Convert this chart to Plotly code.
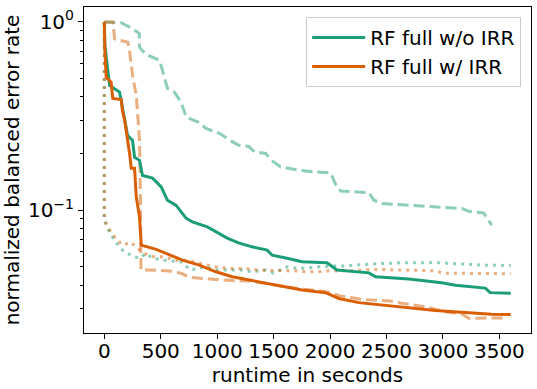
import plotly.graph_objects as go

# ---- data (runtime in seconds, normalized balanced error rate) ----
# RF full w/o IRR: median (solid), upper quantile (dashed), lower quantile (dotted)
wo_med_x = [0, 0, 5, 17, 47, 135, 180, 206, 250, 268, 312, 338, 427, 504, 559, 636, 724, 780, 913,
            989, 1089, 1195, 1310, 1443, 1487, 1608, 1752, 1973, 2061, 2344, 2403, 2697, 2989,
            3110, 3375, 3419, 3600]
wo_med_y = [1.0, 0.85, 0.75, 0.649, 0.46, 0.424, 0.30, 0.25, 0.235, 0.191, 0.184, 0.153, 0.148,
            0.133, 0.113, 0.106, 0.0907, 0.0867, 0.0815, 0.0767, 0.0711, 0.0669, 0.0639, 0.0614,
            0.0577, 0.0557, 0.0532, 0.0526, 0.0481, 0.0465, 0.0443, 0.0431, 0.0412, 0.040,
            0.0386, 0.0365, 0.0362]

wo_hi_x = [0, 150, 250, 310, 312, 360, 490, 530, 560, 620, 680, 725, 830, 900, 1020, 1130, 1190,
           1280, 1330, 1430, 1480, 1560, 1700, 1840, 2005, 2049, 2094, 2344, 2388, 2461, 2815,
           3168, 3227, 3360, 3433]
wo_hi_y = [1.0, 0.99, 0.92, 0.867, 0.733, 0.677, 0.624, 0.508, 0.443, 0.424, 0.375, 0.312, 0.294,
           0.272, 0.256, 0.232, 0.221, 0.218, 0.204, 0.20, 0.184, 0.170, 0.164, 0.160, 0.158,
           0.137, 0.1265, 0.124, 0.113, 0.1085, 0.105, 0.102, 0.0988, 0.0968, 0.0832]

wo_lo_x = [0, 0, 45, 100, 160, 235, 310, 370, 410, 500, 575, 680, 765, 880, 1000, 1210, 1310,
           1430, 1500, 1620, 1725, 1900, 2000, 2100, 2340, 2630, 2930, 3200, 3400, 3600]
wo_lo_y = [1.0, 0.0885, 0.0767, 0.0677, 0.0614, 0.0577, 0.0555, 0.059, 0.0566, 0.0543, 0.054,
           0.0532, 0.0481, 0.050, 0.0481, 0.0481, 0.0471, 0.0481, 0.0463, 0.050, 0.049, 0.050,
           0.0505, 0.0505, 0.0517, 0.0526, 0.0527, 0.0517, 0.051, 0.0509]

# RF full w/ IRR: median (solid), upper quantile (dashed), lower quantile (dotted)
w_med_x = [0, 5, 17, 30, 60, 75, 150, 160, 180, 224, 239, 268, 283, 312, 327, 459, 577, 692,
           842, 989, 1133, 1284, 1398, 1575, 1752, 1961, 2078, 2255, 2580, 2933, 3198, 3430, 3600]
w_med_y = [1.0, 0.70, 0.508, 0.50, 0.478, 0.392, 0.387, 0.339, 0.30, 0.20, 0.167, 0.167, 0.1176,
           0.0922, 0.0653, 0.062, 0.0577, 0.0543, 0.0511, 0.0471, 0.0443, 0.0426, 0.0412,
           0.0395, 0.0377, 0.0365, 0.0340, 0.0323, 0.0307, 0.0293, 0.0286, 0.0280, 0.0279]

w_hi_x = [0, 76, 91, 208, 223, 253, 283, 297, 312, 320, 325, 460, 577, 680, 754, 989, 1136,
          1310, 1460, 1608, 1769, 1902, 2005, 2079, 2284, 2520, 2638, 2843, 3021, 3168, 3227, 3550]
w_hi_y = [1.0, 1.0, 0.812, 0.78, 0.705, 0.508, 0.407, 0.311, 0.235, 0.11, 0.0481, 0.048, 0.0475,
          0.0463, 0.044, 0.0429, 0.0423, 0.042, 0.0405, 0.0392, 0.0381, 0.0374, 0.0365, 0.0352,
          0.0336, 0.0330, 0.0321, 0.0307, 0.0289, 0.0281, 0.0267, 0.0268]

w_lo_x = [0, 0, 29, 58, 102, 162, 235, 279, 353, 440, 530, 620, 735, 853, 986, 1107, 1255, 1375,
          1480, 1570, 1670, 1800, 1900, 1990, 2170, 2403, 2720, 2930, 3006, 3230, 3600]
w_lo_y = [1.0, 0.09, 0.0815, 0.0767, 0.0708, 0.0652, 0.0677, 0.0639, 0.059, 0.0566, 0.0566,
          0.0543, 0.0543, 0.0522, 0.050, 0.0491, 0.049, 0.048, 0.048, 0.0477, 0.0477, 0.0471,
          0.0471, 0.0477, 0.0477, 0.0485, 0.0481, 0.0477, 0.0463, 0.0463, 0.046]

series_names = ["RF full w/o IRR", "RF full w/ IRR"]
x_ticks = [0, 500, 1000, 1500, 2000, 2500, 3000, 3500]
y_major = [1.0, 0.1]
y_major_text = ["10<sup>0</sup>", "10<sup>\u22121</sup>"]
y_minor = [0.03, 0.04, 0.05, 0.06, 0.07, 0.08, 0.09, 0.2, 0.3, 0.4, 0.5, 0.6, 0.7, 0.8, 0.9]

GREEN = "#1b9e77"
ORANGE = "#d95f02"
DASH = "11px,5px"
DOT = "3px,5px"

fig = go.Figure()

def add(x, y, color, dash, opacity, name=None, show=False, width=3):
    fig.add_trace(go.Scatter(
        x=x, y=y, mode="lines", name=name, showlegend=show, opacity=opacity,
        line=dict(color=color, width=width, dash=dash), hoverinfo="skip"))

add(wo_hi_x, wo_hi_y, GREEN, DASH, 0.5)
add(wo_lo_x, wo_lo_y, GREEN, DOT, 0.5)
add(w_hi_x, w_hi_y, ORANGE, DASH, 0.5)
add(w_lo_x, w_lo_y, ORANGE, DOT, 0.5)
add(wo_med_x, wo_med_y, GREEN, "solid", 1.0, series_names[0], True)
add(w_med_x, w_med_y, ORANGE, "solid", 1.0, series_names[1], True)

FONT = "DejaVu Sans"
fig.update_layout(
    width=537, height=389,
    margin=dict(l=84, r=6, t=7, b=56, autoexpand=False),
    paper_bgcolor="white", plot_bgcolor="white",
    font=dict(family=FONT, size=20, color="black"),
    legend=dict(x=0.978, y=0.969, xanchor="right", yanchor="top",
                bgcolor="rgba(255,255,255,0.8)", bordercolor="#cccccc", borderwidth=1,
                font=dict(size=20), tracegroupgap=0, itemwidth=53),
    showlegend=True,
)
fig.update_xaxes(
    range=[-180, 3780], tickvals=x_ticks, ticks="outside", ticklen=5, tickwidth=1,
    tickcolor="black", showline=True, linecolor="black", linewidth=1, mirror=True,
    showgrid=False, zeroline=False, tickfont=dict(size=20), automargin=False,
    ticklabelstandoff=-5,
    title=dict(text="runtime in seconds", font=dict(size=20), standoff=0),
)
fig.update_yaxes(
    type="log", range=[-1.652, 0.079], tickvals=y_major, ticktext=y_major_text,
    ticks="outside", ticklen=5, tickwidth=1, tickcolor="black",
    showline=True, linecolor="black", linewidth=1, mirror=True,
    showgrid=False, zeroline=False, tickfont=dict(size=20), automargin=False,
    minor=dict(tickvals=y_minor, ticks="outside", ticklen=3, tickcolor="black", showgrid=False),
    title=dict(text="normalized balanced error rate", font=dict(size=20), standoff=6),
)

fig.write_html("out.html", config={"displayModeBar": False},
               post_script="document.body.style.margin='0';document.body.style.overflow='hidden';")
